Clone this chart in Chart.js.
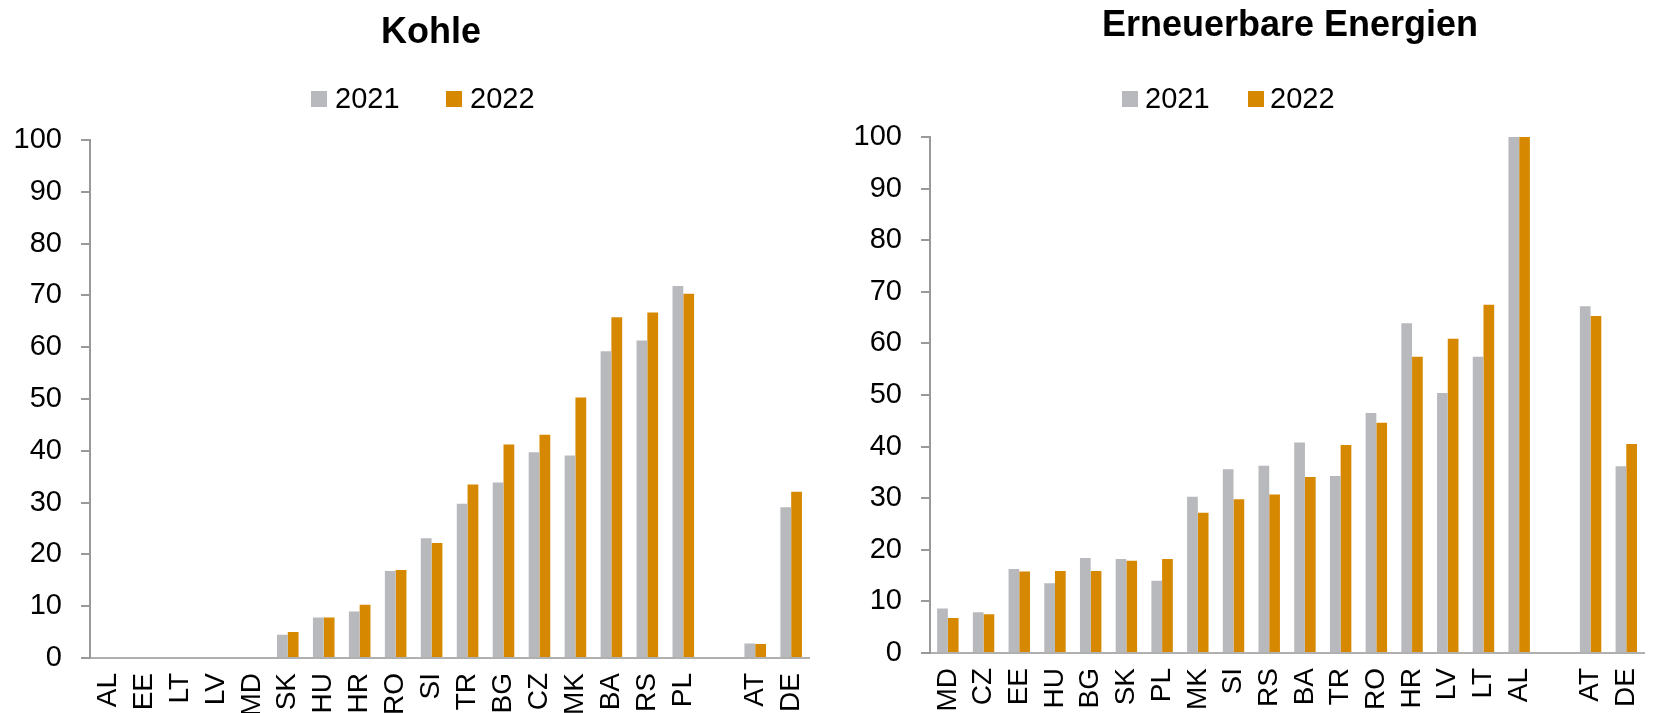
<!DOCTYPE html>
<html>
<head>
<meta charset="utf-8">
<script src="https://cdn.jsdelivr.net/npm/chart.js@4"></script>
<style>
  html, body { margin: 0; padding: 0; background: #ffffff; overflow: hidden; }
  #wrap { position: relative; width: 1675px; height: 713px; }
  canvas { position: absolute; top: 0; }
  #c1 { left: 0; }
  #c2 { left: 840px; }
</style>
</head>
<body>
<div id="wrap">
  <canvas id="c1" width="840" height="713"></canvas>
  <canvas id="c2" width="835" height="713"></canvas>
</div>
<script>
// ---- Data ----
const seriesLabels = ['2021', '2022'];
const yTicks = [0, 10, 20, 30, 40, 50, 60, 70, 80, 90, 100];

const kohleTitle = 'Kohle';
const kohleCats = ['AL','EE','LT','LV','MD','SK','HU','HR','RO','SI','TR','BG','CZ','MK','BA','RS','PL','','AT','DE'];
const kohle2021 = [0,0,0,0,0,4.5,7.8,9.0,16.8,23.1,29.8,33.9,39.7,39.1,59.2,61.3,71.8,null,2.8,29.1];
const kohle2022 = [0,0,0,0,0,5.0,7.8,10.3,17.0,22.2,33.5,41.2,43.1,50.3,65.8,66.7,70.3,null,2.7,32.1];

const eeTitle = 'Erneuerbare Energien';
const eeCats = ['MD','CZ','EE','HU','BG','SK','PL','MK','SI','RS','BA','TR','RO','HR','LV','LT','AL','','AT','DE'];
const ee2021 = [8.6,7.9,16.3,13.5,18.4,18.2,14.0,30.3,35.6,36.3,40.8,34.3,46.5,63.9,50.4,57.4,100,null,67.2,36.2];
const ee2022 = [6.8,7.5,15.8,15.9,15.9,17.9,18.2,27.2,29.8,30.7,34.1,40.3,44.6,57.4,60.9,67.5,100,null,65.3,40.5];

const colors = ['#b8b9bc', '#d68800'];
const FONT = "'Liberation Sans', Arial, sans-serif";

// custom header plugin: title + legend
const headerPlugin = {
  id: 'header',
  afterDraw(chart, args, opts) {
    const ctx = chart.ctx;
    ctx.save();
    ctx.fillStyle = '#000';
    ctx.font = 'bold 36px ' + FONT;
    ctx.textAlign = 'center';
    ctx.textBaseline = 'alphabetic';
    ctx.fillText(opts.title, opts.titleX, opts.titleY);
    ctx.font = '29px ' + FONT;
    ctx.textAlign = 'left';
    opts.items.forEach((it, i) => {
      ctx.fillStyle = colors[i];
      ctx.fillRect(it.box, opts.boxY, 16, 16);
      ctx.fillStyle = '#000';
      ctx.fillText(seriesLabels[i], it.text, opts.textY);
    });
    ctx.restore();
  }
};

function makeChart(id, cats, d1, d2, header, layout) {
  return new Chart(document.getElementById(id), {
    type: 'bar',
    data: {
      labels: cats,
      datasets: [
        { label: seriesLabels[0], data: d1, backgroundColor: colors[0], borderWidth: 0 },
        { label: seriesLabels[1], data: d2, backgroundColor: colors[1], borderWidth: 0 }
      ]
    },
    options: {
      responsive: false,
      animation: false,
      devicePixelRatio: 1,
      layout: { padding: { top: layout.top, right: layout.right, left: 0, bottom: 0 } },
      datasets: { bar: { categoryPercentage: 0.6, barPercentage: 1.0 } },
      plugins: {
        legend: { display: false },
        title: { display: false },
        tooltip: { enabled: false },
        header: header
      },
      scales: {
        x: {
          grid: { display: false, drawTicks: false },
          border: { display: true, color: '#b0b0b0', width: 2 },
          ticks: {
            autoSkip: false, minRotation: 90, maxRotation: 90,
            padding: 15, color: '#000',
            font: { family: FONT, size: 28 }
          },
          afterFit(scale) { scale.height = layout.xh; }
        },
        y: {
          min: 0, max: 100,
          afterBuildTicks(scale) { scale.ticks = yTicks.map(v => ({ value: v })); },
          grid: { display: true, drawOnChartArea: false, drawTicks: true, tickLength: 9, color: '#999999', lineWidth: 2 },
          border: { display: true, color: '#999999', width: 2 },
          ticks: {
            padding: 19, color: '#000',
            font: { family: FONT, size: 29 }
          },
          afterFit(scale) { scale.width = 90; }
        }
      }
    },
    plugins: [headerPlugin]
  });
}

makeChart('c1', kohleCats, kohle2021, kohle2022,
  { title: kohleTitle, titleX: 431, titleY: 43, boxY: 91, textY: 108,
    items: [{ box: 311, text: 335 }, { box: 446, text: 470 }] },
  { top: 140, right: 9, xh: 55 });

makeChart('c2', eeCats, ee2021, ee2022,
  { title: eeTitle, titleX: 450, titleY: 36, boxY: 91, textY: 108,
    items: [{ box: 282, text: 305 }, { box: 408, text: 430 }] },
  { top: 137, right: 4, xh: 60 });
</script>
</body>
</html>
